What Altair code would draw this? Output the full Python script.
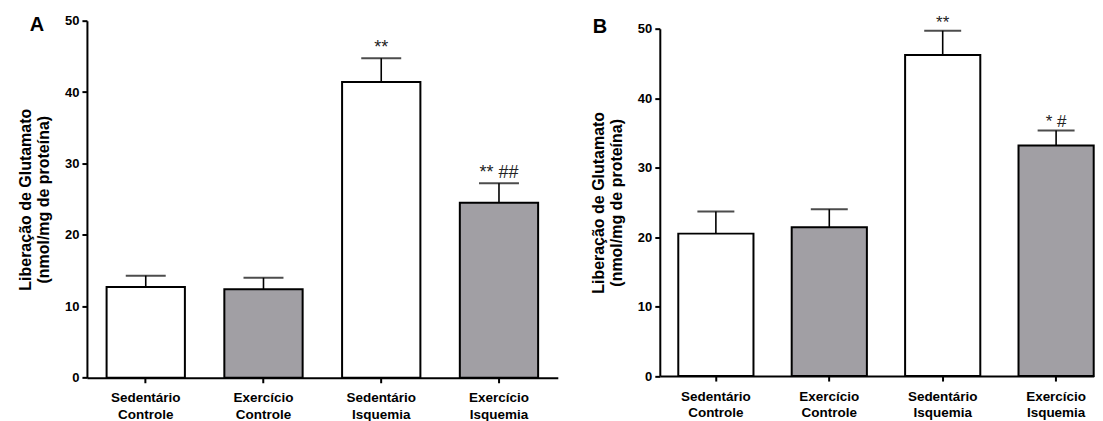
import altair as alt
import pandas as pd

categories = ["Sedentário Controle", "Exercício Controle", "Sedentário Isquemia", "Exercício Isquemia"]
groups = ["Sedentário", "Exercício", "Sedentário", "Exercício"]

mean_a = [12.7, 12.4, 41.4, 24.5]
err_a = [1.6, 1.6, 3.35, 2.75]
ann_a = ["", "", "**", "**  ##"]

mean_b = [20.5, 21.4, 46.2, 33.2]
err_b = [3.2, 2.6, 3.5, 2.15]
ann_b = ["", "", "**", "* #"]

y_title = ["Liberação de Glutamato", "(nmol/mg de proteína)"]
y_ticks = [0, 10, 20, 30, 40, 50]

FONT = "Liberation Sans"
GRAY = "#a19fa4"


def panel(mean, err, ann, letter, letter_x, letter_y, width, height, xscale, yscale, cap, ann_dy, ann_size):
    df = pd.DataFrame({
        "cat": categories,
        "grupo": groups,
        "mean": mean,
        "top": [m + e for m, e in zip(mean, err)],
        "ann": ann,
    })
    base = alt.Chart(df).encode(
        x=alt.X("cat:N", sort=categories, scale=xscale, title=None,
                axis=alt.Axis(labelExpr="split(datum.label, ' ')"))
    )
    bars = base.mark_bar(stroke="black", strokeWidth=2).encode(
        y=alt.Y("mean:Q", scale=yscale, axis=alt.Axis(values=y_ticks, title=y_title)),
        fill=alt.Fill("grupo:N", scale=alt.Scale(domain=["Sedentário", "Exercício"],
                                                 range=["#ffffff", GRAY]), legend=None),
    )
    stem = base.mark_rule(color="black", strokeWidth=1.6).encode(y="mean:Q", y2="top:Q")
    capm = base.mark_tick(color="black", thickness=2, size=cap, orient="horizontal").encode(y="top:Q")
    txt = base.mark_text(font=FONT, fontSize=ann_size, color="#222222", baseline="alphabetic",
                         dy=ann_dy).encode(y="top:Q", text="ann:N")
    lab = alt.Chart(pd.DataFrame({"t": [letter]})).mark_text(
        font=FONT, fontSize=20, fontWeight="bold", color="black", baseline="middle", align="center"
    ).encode(x=alt.value(letter_x), y=alt.value(letter_y), text="t:N")
    return alt.layer(bars, stem, capm, txt, lab).properties(width=width, height=height)


chart_a = panel(mean_a, err_a, ann_a, "A", -50, 4.5, 471.3, 357.4,
                alt.Scale(paddingInner=0.335, paddingOuter=0.167),
                alt.Scale(domain=[0, 50]), 40, -5, 18)
chart_b = panel(mean_b, err_b, ann_b, "B", -60, 6.5, 434.3, 355.7,
                alt.Scale(paddingInner=0.337, paddingOuter=0.0815, align=1),
                alt.Scale(domain=[0, 50], range=[355.7, 8]), 37, -3, 17)

chart = alt.hconcat(chart_a, chart_b, spacing=101.4, bounds="flush").properties(
    padding={"left": 9, "top": 5.5, "right": 0, "bottom": 0}
).configure_view(stroke=None).configure_axis(
    domainColor="black", domainWidth=2, tickColor="black", tickWidth=2, tickSize=5,
    labelFont=FONT, labelFontWeight="bold", labelColor="black",
    titleFont=FONT, titleFontWeight="bold", titleColor="black", grid=False,
).configure_axisY(
    labelFontSize=13, labelPadding=3, titleFontSize=16, titleLineHeight=18, titlePadding=13,
).configure_axisX(
    labelAngle=0, labelFontSize=13.5, labelLineHeight=16.5, labelPadding=8, labelBaseline="top",
)

chart.save("out.html", embed_options={"renderer": "svg", "actions": False})
